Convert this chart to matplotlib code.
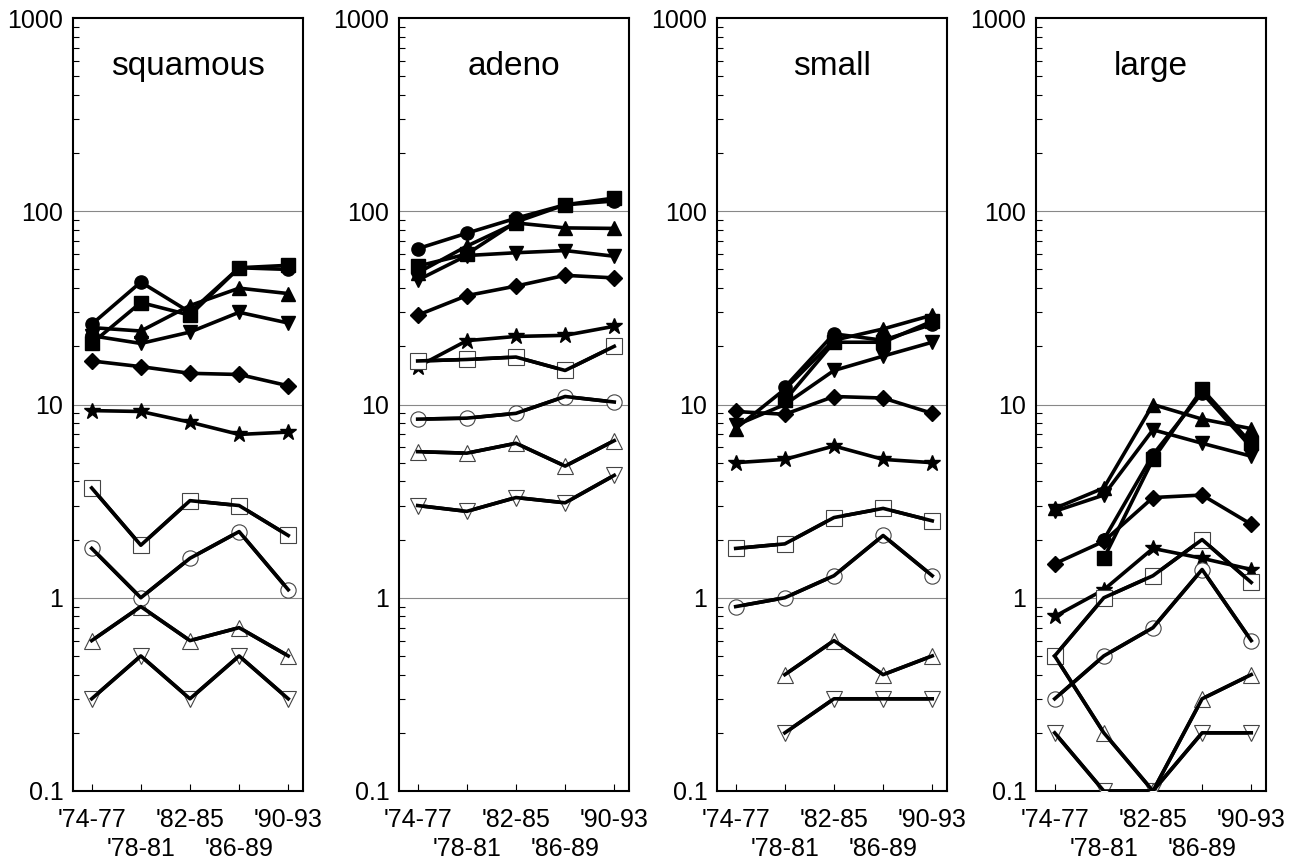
import numpy as np
import matplotlib
matplotlib.use('Agg')
import matplotlib.pyplot as plt

plt.rcParams['font.family'] = ['Liberation Sans', 'DejaVu Sans']

panels = ['squamous', 'adeno', 'small', 'large']
periods = ["'74-77", "'78-81", "'82-85", "'86-89", "'90-93"]
nan = np.nan

# one row per panel (squamous, adeno, small, large), one value per period
filled_circle = [[26, 43, 30, 51, 50],
                 [64, 77, 92, 108, 113],
                 [nan, 12.3, 23.2, 21.5, 26],
                 [nan, 2.0, 5.5, 11.5, 6.0]]
filled_square = [[20.7, 33.7, 29, 51, 52.5],
                 [52, 60, 88, 108, 117],
                 [nan, 10.5, 21, 21, 27],
                 [nan, 1.6, 5.2, 12, 6.3]]
filled_tri_up = [[25, 24, 32.5, 40, 37.5],
                 [48, 66, 87, 82, 81.5],
                 [7.5, 12.0, 21.5, 24.6, 29],
                 [2.9, 3.7, 10, 8.4, 7.5]]
filled_tri_down = [[22.7, 20.7, 23.7, 30, 26.4],
                   [44, 59, 61, 62.6, 58.5],
                   [7.8, 10.0, 15, 17.8, 21],
                   [2.8, 3.4, 7.4, 6.3, 5.4]]
filled_diamond = [[16.8, 15.7, 14.5, 14.3, 12.5],
                  [29, 36.6, 41, 46.6, 45.2],
                  [9.2, 8.9, 11.0, 10.8, 9.0],
                  [1.5, 1.96, 3.3, 3.4, 2.4]]
filled_star = [[9.3, 9.2, 8.1, 7.0, 7.2],
               [15.7, 21.4, 22.5, 22.8, 25.4],
               [5.0, 5.2, 6.1, 5.2, 5.0],
               [0.8, 1.1, 1.8, 1.6, 1.4]]
open_square = [[3.7, 1.87, 3.18, 3.0, 2.1],
               [16.8, 17.1, 17.6, 15.0, 20],
               [1.8, 1.9, 2.6, 2.9, 2.5],
               [0.5, 1.0, 1.3, 2.0, 1.2]]
open_circle = [[1.8, 1.0, 1.6, 2.2, 1.1],
               [8.4, 8.5, 9.0, 11.0, 10.3],
               [0.9, 1.0, 1.3, 2.1, 1.3],
               [0.3, 0.5, 0.7, 1.4, 0.6]]
open_tri_up = [[0.6, 0.9, 0.6, 0.7, 0.5],
               [5.7, 5.6, 6.3, 4.8, 6.5],
               [nan, 0.4, 0.6, 0.4, 0.5],
               [0.5, 0.2, 0.1, 0.3, 0.4]]
open_tri_down = [[0.3, 0.5, 0.3, 0.5, 0.3],
                 [3.0, 2.8, 3.3, 3.1, 4.3],
                 [nan, 0.2, 0.3, 0.3, 0.3],
                 [0.2, 0.1, 0.1, 0.2, 0.2]]

series = [
    (open_tri_down, 'v', False),
    (open_tri_up, '^', False),
    (open_circle, 'o', False),
    (open_square, 's', False),
    (filled_star, '*', True),
    (filled_diamond, 'D', True),
    (filled_tri_down, 'v', True),
    (filled_tri_up, '^', True),
    (filled_square, 's', True),
    (filled_circle, 'o', True),
]

fig = plt.figure(figsize=(12.97, 8.6), dpi=100)
W, H = 1297.0, 860.0
lefts = [73, 399, 717, 1036]
width = 230
top, bottom = 18, 791
x = np.arange(len(periods))

for i, name in enumerate(panels):
    ax = fig.add_axes([lefts[i] / W, 1 - bottom / H, width / W, (bottom - top) / H])
    ax.set_yscale('log')
    ax.set_ylim(0.1, 1000)
    ax.set_xlim(-0.38, 4.3)
    for yv in [1, 10, 100]:
        ax.axhline(yv, color='#888888', lw=0.8, zorder=1)

    for data, mk, filled in series:
        vals = np.array(data[i], dtype=float)
        if filled:
            ms = 12 if mk == '*' else (8 if mk == 'D' else 9.5)
            ax.plot(x, vals, color='black', lw=2.6, marker=mk, ms=ms,
                    mfc='black', mec='black', zorder=3)
        else:
            ax.plot(x, vals, color='black', lw=2.6, zorder=3)
            ax.plot(x, vals, ls='none', marker=mk, ms=11, mfc='white',
                    mec='#444444', mew=0.8, zorder=4)
            ax.plot(x, vals, color='black', lw=2.6, zorder=5)

    ax.text(0.5, 0.957, name, transform=ax.transAxes, ha='center', va='top',
            fontsize=24)

    # two rows of period labels: even periods on top row, odd ones below
    ax.set_xticks(x[0::2])
    ax.set_xticklabels(periods[0::2], fontsize=18)
    ax.set_xticks(x[1::2], minor=True)
    ax.set_xticklabels(periods[1::2], minor=True, fontsize=18)
    ax.tick_params(axis='x', which='major', direction='in', length=5, width=0.8,
                   pad=12, top=False)
    ax.tick_params(axis='x', which='minor', direction='in', length=5, width=0.8,
                   pad=33, top=False)

    ax.set_yticks([0.1, 1, 10, 100, 1000])
    ax.set_yticklabels(['0.1', '1', '10', '100', '1000'], fontsize=18)
    ax.tick_params(axis='y', which='major', direction='in', length=0, pad=7, right=False)
    ax.tick_params(axis='y', which='minor', direction='in', length=4, width=0.8,
                   right=False, labelleft=False)
    for sp in ax.spines.values():
        sp.set_linewidth(1.5)

fig.savefig('out.png', dpi=100)
